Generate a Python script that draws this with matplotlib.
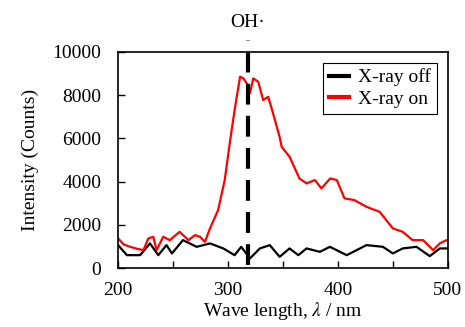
import numpy as np
import matplotlib.pyplot as plt

plt.rcParams['font.family'] = ['Liberation Serif', 'DejaVu Serif']
plt.rcParams['font.size'] = 14
plt.rcParams['mathtext.fontset'] = 'stix'

# X-ray on (red)
wl_on = [200, 205, 211, 217, 223, 227.5, 232, 235, 241, 247, 256, 264, 270, 274.5, 279, 283.6,
         291, 297, 302, 306, 311, 314, 317, 320, 323, 327.5, 332, 336.6, 341, 347,
         348.8, 356, 365, 371.5, 379, 385, 393, 399, 406, 415, 426, 438, 450, 459,
         468, 477.5, 486.7, 492.7, 498.8, 500]
i_on = [1375, 1100, 986, 900, 833, 1375, 1450, 833, 1450, 1296, 1680, 1296, 1528, 1450, 1218, 1838,
        2685, 4074, 5926, 7315, 8857, 8780, 8550, 8100, 8780, 8625, 7778, 7930, 7160, 6065,
        5616, 5153, 4150, 3920, 4074, 3690, 4150, 4074, 3227, 3148, 2838, 2606, 1838, 1680,
        1296, 1296, 833, 1143, 1296, 1250]

# X-ray off (black)
wl_off = [200, 208, 220, 229, 236.6, 244, 249, 259, 271.5, 283.6, 295.7, 306, 312, 320,
          329, 338, 347, 356, 364, 371.5, 383.6, 392.7, 408, 426, 441, 450, 459, 471.5,
          483.6, 492.7, 500]
i_off = [1065, 600, 600, 1143, 600, 1065, 680, 1296, 986, 1143, 912, 600, 986, 450,
         912, 1065, 523, 912, 600, 912, 755, 986, 600, 1065, 986, 680, 912, 986,
         555, 912, 912]

oh_pos = 318

fig = plt.figure(figsize=(4.65, 3.27), dpi=100)
ax = fig.add_axes([0.254, 0.180, 0.709, 0.661])

ax.plot(wl_off, i_off, color='black', lw=1.6, label='X-ray off')
ax.plot(wl_on, i_on, color='red', lw=1.6, label='X-ray on')
ax.plot([oh_pos, oh_pos], [150, 10550], color='black', lw=3, ls=(0, (5, 2.7)),
        clip_on=False, zorder=5)
ax.text(oh_pos, 10950, 'OH·', ha='center', va='bottom')

ax.set_xlim(200, 500)
ax.set_ylim(0, 10000)
ax.set_xticks(np.arange(200, 501, 50))
ax.set_xticklabels(['200', '', '300', '', '400', '', '500'])
ax.set_yticks(np.arange(0, 10001, 2000))
ax.tick_params(direction='in', length=5, width=1)
ax.tick_params(axis='x', pad=10)
ax.tick_params(axis='y', pad=12)
for s in ax.spines.values():
    s.set_linewidth(1.2)

ax.set_xlabel(r'Wave length, $\lambda$ / nm', labelpad=1)
ax.set_ylabel('Intensity (Counts)', labelpad=10)

leg = ax.legend(loc='upper right', fancybox=False, edgecolor='black',
                handlelength=1.0, handletextpad=0.5, borderaxespad=0.55,
                borderpad=0.3, labelspacing=0.2, framealpha=1)
leg.get_frame().set_linewidth(0.8)
for h in leg.get_lines():
    h.set_linewidth(3)

fig.savefig('out.png')
